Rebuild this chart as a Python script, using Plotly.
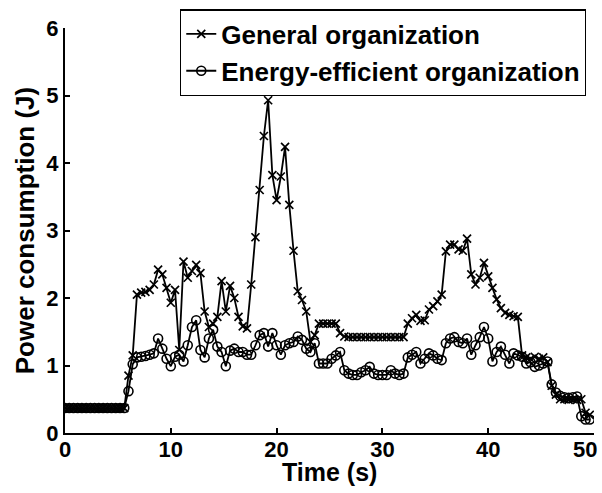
import plotly.graph_objects as go

time_s = [0.0, 0.4, 0.8, 1.2, 1.6, 2.0, 2.4, 2.8, 3.2, 3.6, 4.0, 4.4, 4.8, 5.2, 5.6,
          6.0, 6.4, 6.8, 7.2, 7.6, 8.0, 8.4, 8.8, 9.2, 9.6, 10.0, 10.4, 10.8, 11.2, 11.6,
          12.0, 12.4, 12.8, 13.2, 13.6, 14.0, 14.4, 14.8, 15.2, 15.6, 16.0, 16.4, 16.8, 17.2, 17.6,
          18.0, 18.4, 18.8, 19.2, 19.6, 20.0, 20.4, 20.8, 21.2, 21.6, 22.0, 22.4, 22.8, 23.2, 23.6,
          24.0, 24.4, 24.8, 25.2, 25.6, 26.0, 26.4, 26.8, 27.2, 27.6, 28.0, 28.4, 28.8, 29.2, 29.6,
          30.0, 30.4, 30.8, 31.2, 31.6, 32.0, 32.4, 32.8, 33.2, 33.6, 34.0, 34.4, 34.8, 35.2, 35.6,
          36.0, 36.4, 36.8, 37.2, 37.6, 38.0, 38.4, 38.8, 39.2, 39.6, 40.0, 40.4, 40.8, 41.2, 41.6,
          42.0, 42.4, 42.8, 43.2, 43.6, 44.0, 44.4, 44.8, 45.2, 45.6, 46.0, 46.4, 46.8, 47.2, 47.6,
          48.0, 48.4, 48.8, 49.2, 49.6]

general = [0.37, 0.37, 0.37, 0.37, 0.37, 0.37, 0.37, 0.37, 0.37, 0.37, 0.37, 0.37, 0.37, 0.37, 0.37,
           0.85, 1.15, 2.05, 2.08, 2.09, 2.12, 2.20, 2.42, 2.35, 2.15, 1.93, 2.12, 1.23, 2.54, 2.30,
           2.40, 2.49, 2.37, 1.80, 1.57, 1.62, 1.72, 2.25, 1.80, 2.18, 2.00, 1.72, 1.58, 1.55, 2.20,
           2.90, 3.60, 4.40, 4.93, 3.82, 3.45, 3.80, 4.24, 3.38, 2.70, 2.10, 1.97, 1.80, 1.35, 1.45,
           1.62, 1.62, 1.62, 1.62, 1.62, 1.48, 1.43, 1.42, 1.42, 1.42, 1.42, 1.42, 1.42, 1.42, 1.42,
           1.42, 1.42, 1.42, 1.42, 1.42, 1.42, 1.62, 1.70, 1.75, 1.66, 1.67, 1.83, 1.88, 1.95, 2.05,
           2.69, 2.79, 2.79, 2.72, 2.70, 2.88, 2.35, 2.20, 2.30, 2.52, 2.32, 2.15, 1.98, 1.85, 1.78,
           1.75, 1.73, 1.72, 1.15, 1.12, 1.10, 1.13, 1.10, 1.12, 1.05, 0.70, 0.57, 0.50, 0.50, 0.49,
           0.50, 0.49, 0.50, 0.30, 0.27]

efficient = [0.37, 0.37, 0.37, 0.37, 0.37, 0.37, 0.37, 0.37, 0.37, 0.37, 0.37, 0.37, 0.37, 0.37, 0.37,
             0.62, 1.02, 1.12, 1.13, 1.14, 1.16, 1.18, 1.40, 1.25, 1.10, 0.99, 1.13, 1.16, 1.06, 1.30,
             1.57, 1.67, 1.23, 1.12, 1.40, 1.53, 1.28, 1.20, 0.99, 1.22, 1.25, 1.20, 1.20, 1.16, 1.16,
             1.30, 1.45, 1.48, 1.28, 1.48, 1.30, 1.16, 1.30, 1.33, 1.35, 1.43, 1.38, 1.25, 1.20, 1.33,
             1.03, 1.03, 1.03, 1.10, 1.15, 1.20, 0.93, 0.88, 0.86, 0.86, 0.90, 0.93, 0.98, 0.88, 0.86,
             0.86, 0.86, 0.93, 0.88, 0.86, 0.88, 1.12, 1.16, 1.20, 1.03, 1.10, 1.18, 1.15, 1.10, 1.08,
             1.33, 1.40, 1.42, 1.35, 1.33, 1.40, 1.16, 1.30, 1.42, 1.57, 1.40, 1.06, 1.20, 1.28, 1.16,
             1.03, 1.18, 1.15, 1.13, 1.03, 1.05, 0.98, 1.00, 1.03, 1.06, 0.72, 0.60, 0.55, 0.53, 0.52,
             0.53, 0.54, 0.25, 0.20, 0.20]

x_ticks = [0, 10, 20, 30, 40, 50]
x_tick_labels = ["0", "10", "20", "30", "40", ""]   # last label drawn as an annotation below
last_x_label = "50"
y_ticks = [0, 1, 2, 3, 4, 5, 6]
x_title = "Time (s)"
y_title = "Power consumption (J)"

FONT = "Liberation Sans, Arial, Helvetica, sans-serif"

fig = go.Figure()
fig.add_trace(go.Scatter(
    x=time_s, y=general, mode="lines+markers", name="General organization",
    line=dict(color="black", width=1.8),
    marker=dict(symbol="x-thin", size=8, line=dict(color="black", width=1.7), color="black"),
))
fig.add_trace(go.Scatter(
    x=time_s, y=efficient, mode="lines+markers", name="Energy-efficient organization",
    line=dict(color="black", width=1.8),
    marker=dict(symbol="circle-open", size=9, line=dict(color="black", width=1.6), color="black"),
))

axis_common = dict(
    showline=True, linecolor="black", linewidth=2, mirror=False,
    ticks="inside", ticklen=5, tickwidth=2, tickcolor="black",
    showgrid=False, zeroline=False, automargin=False,
    tickfont=dict(family=FONT, size=22, color="black", weight="bold"),
)

fig.update_xaxes(range=[0, 50], tickvals=x_ticks, ticktext=x_tick_labels,
                 ticklabelstandoff=-4,
                 **axis_common)
fig.update_yaxes(range=[0, 6], tickvals=y_ticks, ticktext=[str(v) for v in y_ticks],
                 title=dict(text=y_title, font=dict(family=FONT, size=26, color="black", weight="bold"),
                            standoff=4),
                 **axis_common)

fig.add_annotation(
    x=x_ticks[-1], y=0, xref="x", yref="y", text=last_x_label, showarrow=False,
    xanchor="right", yanchor="top", xshift=5, yshift=-2,
    font=dict(family=FONT, size=22, color="black", weight="bold"),
)
fig.add_annotation(
    x=0.5, y=0, xref="paper", yref="paper", text=x_title, showarrow=False,
    xanchor="center", yanchor="top", yshift=-23,
    font=dict(family=FONT, size=25, color="black", weight="bold"),
)

fig.update_layout(
    width=602, height=493,
    margin=dict(l=65, r=8, t=28, b=60, autoexpand=False),
    paper_bgcolor="white", plot_bgcolor="white",
    legend=dict(
        x=0.985, y=1.046, xanchor="right", yanchor="top",
        bgcolor="white", bordercolor="black", borderwidth=1.2,
        font=dict(family=FONT, size=26, color="black", weight="bold"),
        itemwidth=30, tracegroupgap=0,
    ),
    showlegend=True,
)

fig.write_html("out.html")
